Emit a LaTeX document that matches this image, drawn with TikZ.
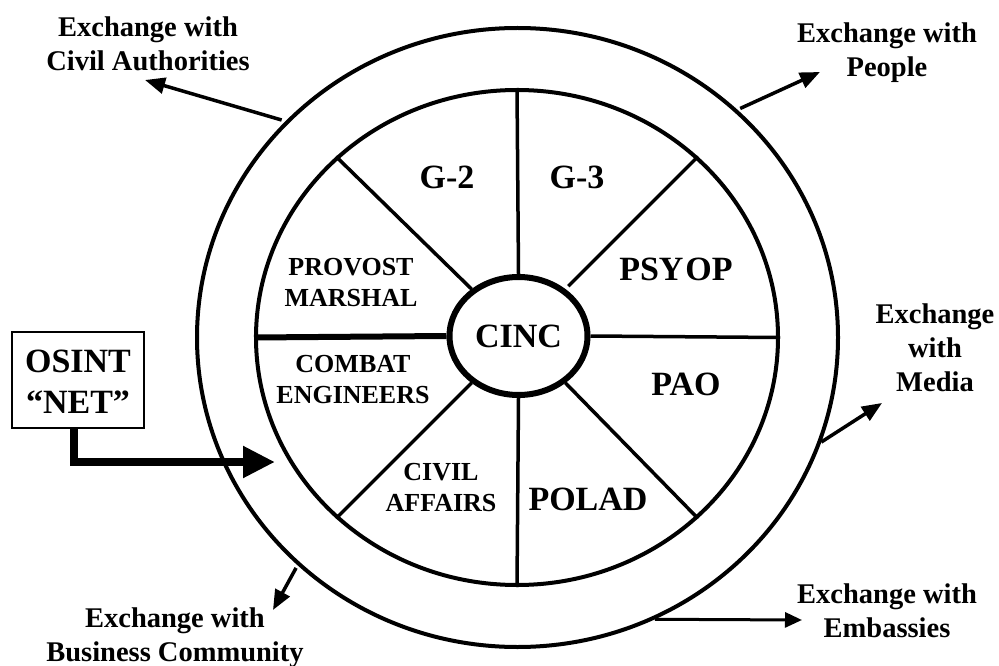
\documentclass[tikz,border=0pt]{standalone}
\usepackage{fontspec}
\setmainfont{Liberation Serif}
\usetikzlibrary{arrows.meta,shapes.geometric}
\newcommand\stacklines[1]{\begin{tabular}[t]{@{}c@{}}#1\end{tabular}}

\begin{document}
\begin{tikzpicture}[x=1pt,y=-1pt,
  ring/.style={draw, ellipse, inner sep=0pt, line width=4pt},
  spoke/.style={line width=3.5pt},
  big/.style={font=\bfseries\fontsize{34}{40}\selectfont, inner sep=0pt, anchor=base},
  small/.style={font=\bfseries\fontsize{26}{31}\selectfont, inner sep=0pt, anchor=base},
  outerlab/.style={font=\bfseries\fontsize{28.5}{34}\selectfont, inner sep=0pt, anchor=base},
  flow/.style={line width=3.5pt, -{Triangle[length=20pt,width=16pt]}},
]
\useasboundingbox (0,0) rectangle (999,666);

% the wheel: outer ring, inner ring and the hub
\node[ring, minimum width=641pt, minimum height=619pt] (outer) at (517.5,337.5) {};
\node[ring, minimum width=522pt, minimum height=495pt] (inner) at (517,337.5) {};
\node[ring, line width=6pt, minimum width=138pt, minimum height=118pt,
      font=\bfseries\fontsize{34}{40}\selectfont] (cinc) at (518.5,336) {CINC};

% spokes from the hub to the inner ring
\draw[spoke] (cinc.north) -- (inner.north);
\draw[spoke] (cinc.south) -- (inner.south);
\draw[line width=6pt] (cinc.west) -- (inner.west);
\draw[spoke] (cinc.east) -- (inner.east);
\draw[spoke] (cinc.135) -- (inner.135);
\draw[spoke, shorten <=4pt] (cinc.45) -- (inner.45);
\draw[spoke] (cinc.225) -- (inner.225);
\draw[spoke] (cinc.315) -- (inner.315);

% staff sections
\node[big] (g2) at (447,189) {G-2};
\node[big] (g3) at (577,189) {G-3};
\node[big] (psyop) at (676,280) {PSY\kern2pt OP};
\node[big] (pao) at (686,395) {PAO};
\node[big] (polad) at (588,510) {POLAD};
\node[small] (provost) at (351,275) {\stacklines{PROVOST\\MARSHAL}};
\node[small] (combat) at (353,372) {\stacklines{COMBAT\\ENGINEERS}};
\node[small] (civil) at (441,480) {\stacklines{CIVIL\\AFFAIRS}};

% open source feed
\node[draw, rectangle, line width=2pt, minimum width=132pt, minimum height=96pt,
      inner sep=0pt, text height=30pt, text depth=46pt,
      font=\bfseries\fontsize{34}{41}\selectfont] (osint) at (78,380)
      {\stacklines{OSINT\\“NET”}};
\coordinate (nettip) at (275,462);
\draw[line width=8pt, -{Triangle[length=32pt,width=30pt]}]
  ([xshift=-4pt]osint.south) |- (nettip);

% exchanges with the outside
\node[outerlab] (civauth) at (148,37) {\stacklines{Exchange with\\Civil Authorities}};
\node[outerlab] (people) at (887,43) {\stacklines{Exchange with\\People}};
\node[outerlab] (media) at (935,323) {\stacklines{Exchange\\with\\Media}};
\node[outerlab] (business) at (175,627) {\stacklines{Exchange with\\Business Community}};
\node[outerlab] (embassies) at (887,603) {\stacklines{Exchange with\\Embassies}};

\coordinate (tipCA) at (145,80);
\coordinate (tipPE) at (820,72);
\coordinate (tipME) at (882,403);
\coordinate (tipBC) at (273,610);
\coordinate (tipEM) at (802,620);

\draw[flow, shorten <=4pt] (outer.137) -- (tipCA);
\draw[flow, shorten <=3pt] (outer.46) -- (tipPE);
\draw[flow] (outer.-19) -- (tipME);
\draw[flow, shorten <=3pt] (outer.226) -- (tipBC);
\draw[flow, line width=3pt, -{Triangle[length=17pt,width=15pt]}] (outer.-64) -- (tipEM);
\end{tikzpicture}
\end{document}
